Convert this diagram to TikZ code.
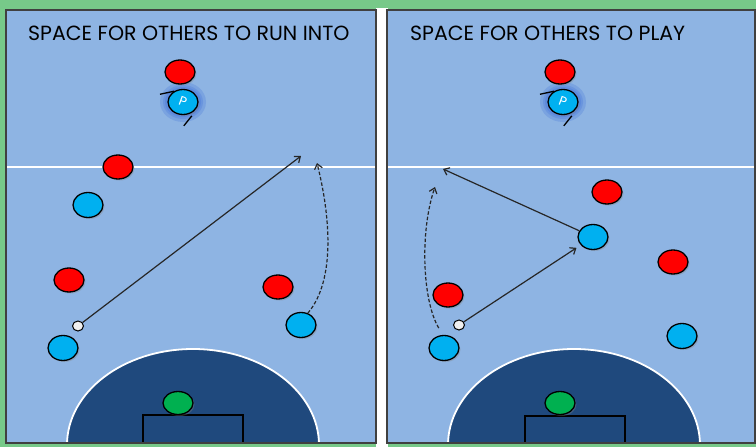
\documentclass[tikz,border=0pt]{standalone}
\usepackage{fontspec}
\newfontfamily\gothic{Poppins}
\usepackage{tikz}
\usetikzlibrary{calc,arrows.meta,positioning,shapes.geometric,shadows}
\definecolor{grass}{RGB}{119,201,137}
\definecolor{pitch}{RGB}{142,180,227}
\definecolor{dzone}{RGB}{31,73,125}
\definecolor{oppred}{RGB}{255,0,0}
\definecolor{teamblue}{RGB}{0,176,240}
\definecolor{keeper}{RGB}{0,176,80}
\definecolor{halo}{RGB}{45,95,215}

\begin{document}
\begin{tikzpicture}[x=1pt,y=-1pt,
        player/.style={ellipse,draw=black,line width=1.3pt,minimum width=30pt,minimum height=25pt,
          inner sep=0pt,drop shadow={shadow xshift=1.5pt,shadow yshift=-1.5pt,opacity=0.35}},
        opp/.style={player,fill=oppred,minimum height=24pt},
        mate/.style={player,fill=teamblue},
        gk/.style={player,fill=keeper,minimum height=23pt},
        ball/.style={ellipse,draw=black,line width=1pt,fill=black!6,minimum width=11pt,minimum height=10pt,inner sep=0pt},
        ptag/.style={text=white,font=\gothic\fontsize{13}{13}\selectfont,rotate=-20,inner sep=0pt},
        title/.style={anchor=west,font=\gothic\fontsize{20.5}{24}\selectfont,inner sep=0pt},
        panel/.style={fill=pitch,draw=black!75,line width=1.6pt},
        pass/.style={line width=1.2pt,black!85,-{Straight Barb[length=5pt,width=8pt]}},
        run/.style={pass,dash pattern=on 3.5pt off 2pt},
        stick/.style={line width=1.3pt,black}]
      % frame
      \fill[grass] (0,0) rectangle (756,447);
      \fill[white] (376,8) rectangle (388,447);
      \useasboundingbox (0,0) rectangle (756,447);

      % left panel
      \fill[pitch] (6,10) rectangle (376,443);
      \begin{scope}
        \clip (6,10) rectangle (376,443);
        \draw[fill=dzone,draw=white,line width=1.8pt] (193,445) ellipse [x radius=126, y radius=96];
        \draw[white,line width=1.6pt] (6,167) -- (376,167);
        \draw[fill=dzone,draw=black,line width=1.5pt] (143,415) rectangle (243,446);
      \end{scope}
      \draw[panel,fill=none] (6,10) rectangle (376,443);
      \node[title] (titleL) at (28,33) {SPACE FOR OTHERS TO RUN INTO};

      % right panel
      \fill[pitch] (387,10) rectangle (755,443);
      \begin{scope}
        \clip (387,10) rectangle (755,443);
        \draw[fill=dzone,draw=white,line width=1.8pt] (574,445) ellipse [x radius=126, y radius=96];
        \draw[white,line width=1.6pt] (387,167) -- (755,167);
        \draw[fill=dzone,draw=black,line width=1.5pt] (525,416) rectangle (625,446);
      \end{scope}
      \draw[panel,fill=none] (387,10) rectangle (755,443);
      \node[title] (titleR) at (410,33) {SPACE FOR OTHERS TO PLAY};

      % players, left
      \coordinate (pLc) at (183,102);
      \foreach \r in {23,20,18}
        \fill[halo,opacity=0.2] (pLc) ellipse [x radius=\r, y radius=\r-3];
      \node[opp] (oppL1) at (180,72) {};
      \node[mate] (pL) at (pLc) {};
      \node[ptag] (pLtag) at (pL) {P};
      \draw[stick] (pL.130) -- ++(-14,3);
      \draw[stick] ($(pL.-60)+(2,2)$) -- ++(-8,10);
      \node[opp] (oppL2) at (118,167) {};
      \node[mate] (mateL2) at (88,205) {};
      \node[opp] (oppL3) at (69,280) {};
      \node[mate] (carL) at (63,348) {};
      \node[ball] (ballL) at (78,326) {};
      \node[opp] (oppL4) at (278,287) {};
      \node[mate] (runnerL) at (301,325) {};
      \node[gk] (gkL) at (178,403) {};
      \coordinate (passL) at (301,156);
      \coordinate (runL) at (317,163);
      \draw[pass] (ballL) -- (passL);
      \draw[run] (runnerL.60) .. controls (336,280) and (330,215) .. (runL);

      % players, right
      \coordinate (pRc) at (563,102);
      \foreach \r in {23,20,18}
        \fill[halo,opacity=0.2] (pRc) ellipse [x radius=\r, y radius=\r-3];
      \node[opp] (oppR1) at (560,72) {};
      \node[mate] (pR) at (pRc) {};
      \node[ptag] (pRtag) at (pR) {P};
      \draw[stick] (pR.130) -- ++(-14,3);
      \draw[stick] ($(pR.-60)+(2,2)$) -- ++(-8,10);
      \node[opp] (oppR2) at (607,192) {};
      \node[mate] (mateR) at (593,237) {};
      \node[opp] (oppR3) at (673,262) {};
      \node[mate] (mateR3) at (682,336) {};
      \node[opp] (oppR4) at (448,295) {};
      \node[mate] (carR) at (444,348) {};
      \node[ball] (ballR) at (459,325) {};
      \node[gk] (gkR) at (560,403) {};
      \coordinate (passR) at (443,169);
      \coordinate (runR) at (435,187);
      \draw[pass,shorten >=5pt] (ballR) -- (mateR);
      \draw[pass] (mateR) -- (passR);
      \draw[run,shorten <=8pt] (carR.95) .. controls (422,300) and (420,230) .. (runR);
    \end{tikzpicture}
\end{document}
